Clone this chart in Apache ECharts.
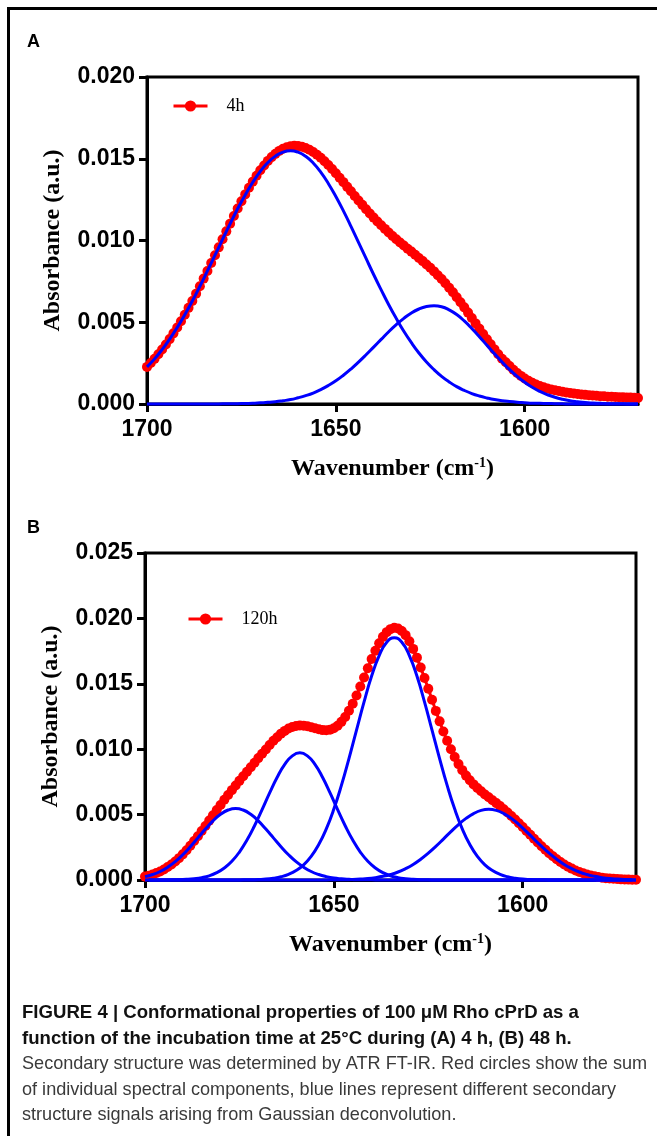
<!DOCTYPE html>
<html>
<head>
<meta charset="utf-8">
<script src="https://cdn.jsdelivr.net/npm/echarts/dist/echarts.min.js"></script>
<style>
html,body{margin:0;padding:0;background:#fff;}
#chart{width:657px;height:1136px;}
</style>
</head>
<body>
<div id="chart"></div>
<script>
// Wavenumber sampling (cm^-1): red circles every 1 from 1700 down to 1570,
// blue curves every 2 (even grid from 1700, odd grid from 1699)
const redStart = 1700, redStep = 1;
const evenStart = 1700, oddStart = 1699, blueStep = 2;
const xTicks = [1700, 1650, 1600];

// Panel A (4h)
const legendA = '4h';
const redA = [
  0.00227,0.00251,0.00276,0.00304,0.00333,0.00364,0.00397,0.00432,0.00468,0.00506,
  0.00546,0.00588,0.00630,0.00675,0.00720,0.00767,0.00814,0.00862,0.00910,0.00958,
  0.01008,0.01056,0.01103,0.01150,0.01196,0.01240,0.01282,0.01323,0.01360,0.01396,
  0.01430,0.01459,0.01487,0.01510,0.01530,0.01548,0.01561,0.01570,0.01576,0.01579,
  0.01578,0.01574,0.01566,0.01555,0.01541,0.01524,0.01506,0.01485,0.01462,0.01437,
  0.01411,0.01384,0.01357,0.01328,0.01301,0.01272,0.01245,0.01218,0.01191,0.01165,
  0.01140,0.01116,0.01093,0.01071,0.01049,0.01028,0.01008,0.00988,0.00969,0.00950,
  0.00932,0.00913,0.00893,0.00874,0.00853,0.00833,0.00811,0.00787,0.00764,0.00738,
  0.00711,0.00683,0.00653,0.00622,0.00591,0.00559,0.00526,0.00493,0.00461,0.00428,
  0.00396,0.00365,0.00334,0.00304,0.00277,0.00255,0.00232,0.00210,0.00190,0.00172,
  0.00156,0.00142,0.00130,0.00119,0.00110,0.00102,0.00095,0.00089,0.00084,0.00079,
  0.00075,0.00071,0.00067,0.00064,0.00061,0.00058,0.00056,0.00054,0.00052,0.00050,
  0.00048,0.00047,0.00045,0.00044,0.00043,0.00042,0.00041,0.00040,0.00039,0.00038,
  0.00037
];
// even grid 1700..1570
const blueA1 = [
  0.00227,0.00276,0.00333,0.00397,0.00468,0.00546,0.00630,0.00720,0.00814,0.00910,
  0.01007,0.01102,0.01194,0.01279,0.01356,0.01423,0.01477,0.01516,0.01541,0.01549,
  0.01540,0.01515,0.01474,0.01418,0.01349,0.01269,0.01181,0.01087,0.00989,0.00890,
  0.00792,0.00698,0.00607,0.00523,0.00445,0.00375,0.00312,0.00257,0.00210,0.00169,
  0.00135,0.00106,0.00083,0.00064,0.00049,0.00037,0.00027,0.00020,0.00015,0.00011,
  0.00008,0.00005,0.00004,0.00003,0.00002,0.00001,0,0,0,0,
  0,0,0,0,0,0
];
// even grid 1700..1570
const blueA2 = [
  0,0,0,0,0,0,0,0,0,0,
  0.00001,0.00001,0.00002,0.00003,0.00004,0.00007,0.00010,0.00014,0.00020,0.00027,
  0.00038,0.00051,0.00067,0.00088,0.00113,0.00142,0.00176,0.00214,0.00256,0.00301,
  0.00348,0.00395,0.00442,0.00485,0.00524,0.00557,0.00581,0.00596,0.00601,0.00595,
  0.00576,0.00547,0.00508,0.00462,0.00412,0.00359,0.00307,0.00257,0.00210,0.00169,
  0.00133,0.00102,0.00077,0.00057,0.00041,0.00029,0.00020,0.00014,0.00009,0.00006,
  0.00004,0.00002,0.00001,0.00001,0,0
];

// Panel B (120h)
const legendB = '120h';
const redB = [
  0.00026,0.00033,0.00042,0.00053,0.00065,0.00080,0.00099,0.00119,0.00142,0.00167,
  0.00196,0.00228,0.00262,0.00298,0.00335,0.00374,0.00413,0.00454,0.00495,0.00535,
  0.00574,0.00613,0.00650,0.00687,0.00723,0.00758,0.00793,0.00827,0.00862,0.00897,
  0.00932,0.00965,0.00998,0.01032,0.01064,0.01092,0.01119,0.01140,0.01158,0.01170,
  0.01178,0.01182,0.01180,0.01175,0.01168,0.01160,0.01152,0.01146,0.01145,0.01149,
  0.01160,0.01179,0.01209,0.01246,0.01294,0.01348,0.01411,0.01479,0.01548,0.01619,
  0.01689,0.01753,0.01810,0.01859,0.01895,0.01918,0.01928,0.01923,0.01904,0.01872,
  0.01825,0.01767,0.01700,0.01625,0.01545,0.01462,0.01378,0.01293,0.01213,0.01136,
  0.01065,0.00999,0.00940,0.00886,0.00840,0.00798,0.00762,0.00731,0.00703,0.00678,
  0.00654,0.00632,0.00610,0.00588,0.00565,0.00541,0.00516,0.00489,0.00463,0.00434,
  0.00405,0.00375,0.00346,0.00316,0.00287,0.00258,0.00232,0.00205,0.00181,0.00159,
  0.00138,0.00119,0.00102,0.00087,0.00073,0.00061,0.00051,0.00042,0.00034,0.00028,
  0.00022,0.00018,0.00014,0.00011,0.00009,0.00007,0.00005,0.00004,0.00003,0.00002,
  0.00002
];
// even grid 1700..1570
const blueB1 = [
  0.00026,0.00042,0.00065,0.00098,0.00140,0.00193,0.00255,0.00322,0.00389,0.00452,
  0.00502,0.00535,0.00547,0.00535,0.00502,0.00452,0.00389,0.00322,0.00255,0.00193,
  0.00140,0.00098,0.00065,0.00042,0.00026,0.00015,0.00009,0.00005,0.00002,0.00001,
  0.00001,0,0,0,0,0,0,0,0,0,
  0,0,0,0,0,0,0,0,0,0,
  0,0,0,0,0,0,0,0,0,0,
  0,0,0,0,0,0
];
// odd grid 1699..1571
const blueB2 = [
  0,0,0,0.00001,0.00002,0.00005,0.00010,0.00018,0.00032,0.00056,
  0.00092,0.00143,0.00214,0.00305,0.00415,0.00538,0.00666,0.00786,0.00884,0.00949,
  0.00972,0.00949,0.00884,0.00786,0.00666,0.00538,0.00415,0.00305,0.00214,0.00143,
  0.00092,0.00056,0.00032,0.00018,0.00010,0.00005,0.00002,0.00001,0,0,
  0,0,0,0,0,0,0,0,0,0,
  0,0,0,0,0,0,0,0,0,0,
  0,0,0,0,0
];
// even grid 1700..1570
const blueB3 = [
  0,0,0,0,0,0,0,0,0,0,
  0,0,0,0.00001,0.00002,0.00004,0.00007,0.00014,0.00025,0.00043,
  0.00072,0.00116,0.00181,0.00271,0.00391,0.00542,0.00723,0.00928,0.01146,0.01362,
  0.01559,0.01716,0.01818,0.01853,0.01818,0.01716,0.01559,0.01362,0.01146,0.00928,
  0.00723,0.00542,0.00391,0.00271,0.00181,0.00116,0.00072,0.00043,0.00025,0.00014,
  0.00007,0.00004,0.00002,0.00001,0,0,0,0,0,0,
  0,0,0,0,0,0
];
// odd grid 1699..1571
const blueB4 = [
  0,0,0,0,0,0,0,0,0,0,
  0,0,0,0,0,0,0,0,0,0,
  0,0,0,0,0.00001,0.00001,0.00002,0.00004,0.00007,0.00011,
  0.00018,0.00028,0.00042,0.00061,0.00087,0.00119,0.00159,0.00205,0.00257,0.00313,
  0.00370,0.00424,0.00471,0.00508,0.00532,0.00540,0.00532,0.00508,0.00471,0.00424,
  0.00370,0.00313,0.00257,0.00205,0.00159,0.00119,0.00087,0.00061,0.00042,0.00028,
  0.00018,0.00011,0.00007,0.00004,0.00002
];

const captionBold = [
  'FIGURE 4 | Conformational properties of 100 \u03bcM Rho cPrD as a',
  'function of the incubation time at 25\u00b0C during (A) 4 h, (B) 48 h.'
];
const captionBody = [
  'Secondary structure was determined by ATR FT-IR. Red circles show the sum',
  'of individual spectral components, blue lines represent different secondary',
  'structure signals arising from Gaussian deconvolution.'
];

// ---- build ----
function pairs(vals, start, step){ return vals.map((v,i)=>[start - i*step, v]); }

const RED = '#ff0000', BLUE = '#0000ff';
const tickFont = {fontFamily:'Liberation Sans', fontWeight:'bold', fontSize:23, color:'#000'};
const titleFont = {fontFamily:'Liberation Serif', fontWeight:'bold', fontSize:24, color:'#000'};

function xAxisFor(g){
  return {
    gridIndex:g, type:'value', min:1570, max:1700, inverse:true,
    axisLine:{show:true, onZero:false, lineStyle:{color:'#000', width:3}},
    axisTick:{show:true, customValues:xTicks, length:8, lineStyle:{color:'#000', width:3}},
    axisLabel:Object.assign({customValues:xTicks, margin:14, formatter:v=>String(v)}, tickFont),
    splitLine:{show:false},
    name:'Wavenumber (cm{sup|-1})', nameLocation:'middle', nameGap:52,
    nameTextStyle:Object.assign({rich:{sup:{fontFamily:'Liberation Serif', fontWeight:'bold', fontSize:14, color:'#000', verticalAlign:'bottom', padding:[0,0,12,0]}}}, titleFont)
  };
}
function yAxisFor(g, max){
  return {
    gridIndex:g, type:'value', min:0, max:max, interval:0.005,
    axisLine:{show:true, lineStyle:{color:'#000', width:3}},
    axisTick:{show:true, length:8, lineStyle:{color:'#000', width:3}},
    axisLabel:Object.assign({margin:12, formatter:v=>v.toFixed(3)}, tickFont),
    splitLine:{show:false},
    name:'Absorbance (a.u.)', nameLocation:'middle', nameGap:82, nameRotate:90,
    nameTextStyle:titleFont
  };
}
function redSeries(name, vals, g){
  return {name:name, type:'line', xAxisIndex:g, yAxisIndex:g, data:pairs(vals, redStart, redStep),
    symbol:'circle', symbolSize:10, showSymbol:true, showAllSymbol:true, clip:false,
    itemStyle:{color:RED}, lineStyle:{color:RED, width:3}, z:3};
}
function blueSeries(name, vals, start, g){
  return {name:name, type:'line', xAxisIndex:g, yAxisIndex:g, data:pairs(vals, start, blueStep),
    smooth:true, showSymbol:false, symbol:'none', clip:false,
    itemStyle:{color:BLUE}, lineStyle:{color:BLUE, width:3}, z:4};
}
const legendCommon = {itemWidth:34, itemHeight:14, orient:'horizontal',
  lineStyle:{width:3},
  textStyle:{fontFamily:'Liberation Serif', fontSize:18, color:'#000', padding:[0,0,0,14]}};

const graphic = [
  {type:'polyline', shape:{points:[[8.5,1145],[8.5,8.5],[665,8.5]]}, style:{stroke:'#000', lineWidth:3, fill:null}},
  {type:'text', x:27, y:42, style:{text:'A', fontFamily:'Liberation Sans', fontWeight:'bold', fontSize:18, fill:'#000', verticalAlign:'middle'}},
  {type:'text', x:27, y:528, style:{text:'B', fontFamily:'Liberation Sans', fontWeight:'bold', fontSize:18, fill:'#000', verticalAlign:'middle'}}
];
captionBold.forEach((t,i)=>graphic.push({type:'text', x:22, y:1013 + i*25.5,
  style:{text:t, fontFamily:'Liberation Sans', fontWeight:'bold', fontSize:18.6, fill:'#111', verticalAlign:'middle'}}));
captionBody.forEach((t,i)=>graphic.push({type:'text', x:22, y:1064 + i*25.5,
  style:{text:t, fontFamily:'Liberation Sans', fontSize:18.1, fill:'#3a3a3a', verticalAlign:'middle'}}));

const chart = echarts.init(document.getElementById('chart'), null, {renderer:'canvas'});
chart.setOption({
  animation:false,
  backgroundColor:'#fff',
  grid:[
    {left:147, top:77, width:491, height:327, show:true, borderColor:'#000', borderWidth:3, backgroundColor:'transparent'},
    {left:145, top:553, width:491, height:327, show:true, borderColor:'#000', borderWidth:3, backgroundColor:'transparent'}
  ],
  xAxis:[xAxisFor(0), xAxisFor(1)],
  yAxis:[yAxisFor(0, 0.020), yAxisFor(1, 0.025)],
  legend:[
    Object.assign({data:[legendA], left:167, top:92}, legendCommon),
    Object.assign({data:[legendB], left:182, top:605}, legendCommon)
  ],
  graphic:graphic,
  series:[
    redSeries(legendA, redA, 0),
    blueSeries('A component 1', blueA1, evenStart, 0),
    blueSeries('A component 2', blueA2, evenStart, 0),
    redSeries(legendB, redB, 1),
    blueSeries('B component 1', blueB1, evenStart, 1),
    blueSeries('B component 2', blueB2, oddStart, 1),
    blueSeries('B component 3', blueB3, evenStart, 1),
    blueSeries('B component 4', blueB4, oddStart, 1)
  ]
});
</script>
</body>
</html>
